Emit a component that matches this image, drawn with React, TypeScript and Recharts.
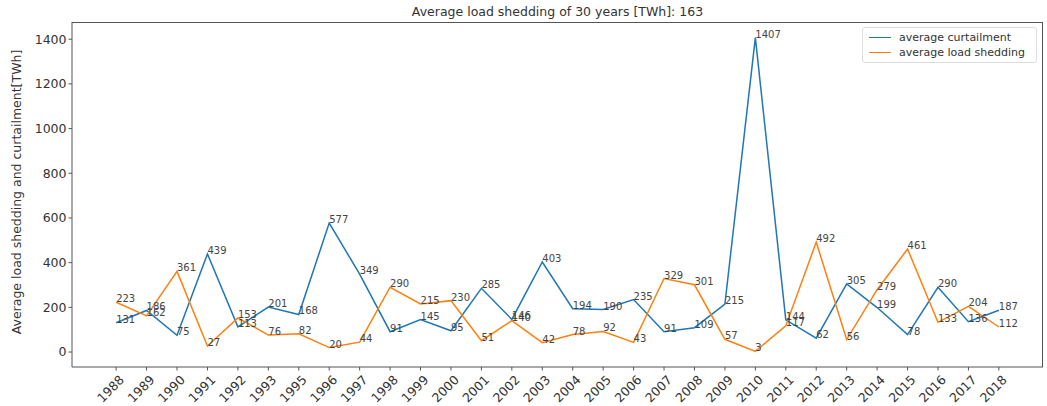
import { LineChart, Line, XAxis, YAxis, LabelList } from "recharts";

const years = [
  "1988", "1989", "1990", "1991", "1992", "1993", "1995", "1996", "1997", "1998",
  "1999", "2000", "2001", "2002", "2003", "2004", "2005", "2006", "2007", "2008",
  "2009", "2010", "2011", "2012", "2013", "2014", "2015", "2016", "2017", "2018",
];
const curtailment = [
  131, 186, 75, 439, 113, 201, 168, 577, 349, 91, 145, 95, 285, 146, 403, 194, 190,
  235, 91, 109, 215, 1407, 144, 62, 305, 199, 78, 290, 136, 187,
];
const loadShedding = [
  223, 162, 361, 27, 153, 76, 82, 20, 44, 290, 215, 230, 51, 140, 42, 78, 92, 43, 329,
  301, 57, 3, 117, 492, 56, 279, 461, 133, 204, 112,
];
const yTicks = [0, 200, 400, 600, 800, 1000, 1200, 1400];

const data = years.map((year, i) => ({
  idx: i,
  year,
  curtailment: curtailment[i],
  shedding: loadShedding[i],
}));

const FONT = "'DejaVu Sans', sans-serif";
const BLUE = "#1f77b4";
const ORANGE = "#ff7f0e";

const ValueLabel = (props: any) => {
  const { x, y, value } = props;
  return (
    <text x={x} y={y} fontSize={10} fill="#444" fontFamily={FONT} textAnchor="start">
      {value}
    </text>
  );
};

const YearTick = (props: any) => {
  const { x, y, payload } = props;
  return (
    <g transform={`translate(${x},${y + 5})`}>
      <text
        transform="rotate(-45)"
        textAnchor="end"
        dominantBaseline="central"
        fontSize={12.5}
        fill="#333"
        fontFamily={FONT}
        x={4}
        y={4}
      >
        {years[payload.value]}
      </text>
    </g>
  );
};

export default function App() {
  return (
    <div style={{ position: "absolute", left: 0, top: 0, width: 1047, height: 406, background: "#fff" }}>
      <LineChart
        width={1047}
        height={406}
        data={data}
        margin={{ top: 22, right: 4, bottom: 0, left: 8 }}
      >
        <XAxis
          dataKey="idx"
          type="number"
          domain={[-1.45, 30.45]}
          ticks={years.map((_, i) => i)}
          interval={0}
          height={39}
          stroke="#555"
          tickSize={3.5}
          tick={<YearTick />}
        />
        <YAxis
          domain={[-67, 1477]}
          ticks={yTicks}
          width={64}
          stroke="#555"
          tickSize={3.5}
          tick={{ fontSize: 12.5, fill: "#333", fontFamily: FONT }}
        />
        <Line
          dataKey="curtailment"
          stroke={BLUE}
          strokeWidth={1.5}
          dot={false}
          isAnimationActive={false}
        >
          <LabelList dataKey="curtailment" content={<ValueLabel />} />
        </Line>
        <Line
          dataKey="shedding"
          stroke={ORANGE}
          strokeWidth={1.5}
          dot={false}
          isAnimationActive={false}
        >
          <LabelList dataKey="shedding" content={<ValueLabel />} />
        </Line>
      </LineChart>
      {/* top and right spines */}
      <div
        style={{
          position: "absolute",
          left: 72,
          top: 22,
          width: 971,
          height: 345,
          borderTop: "1px solid #555",
          borderRight: "1px solid #555",
          boxSizing: "border-box",
          pointerEvents: "none",
        }}
      />
      <svg
        width={30}
        height={406}
        style={{ position: "absolute", left: 0, top: 0, pointerEvents: "none" }}
      >
        <text
          transform="translate(21,192) rotate(-90)"
          textAnchor="middle"
          fontSize={12.5}
          fill="#333"
          fontFamily={FONT}
        >
          Average load shedding and curtailment[TWh]
        </text>
      </svg>
      <div
        style={{
          position: "absolute",
          top: 4,
          left: 72,
          width: 971,
          textAlign: "center",
          fontFamily: FONT,
          fontSize: 12.5,
          color: "#333",
        }}
      >
        Average load shedding of 30 years [TWh]: 163
      </div>
      <div
        style={{
          position: "absolute",
          left: 862,
          top: 27,
          width: 175,
          height: 36,
          border: "1px solid #ddd",
          borderRadius: 3,
          background: "rgba(255,255,255,0.8)",
          fontFamily: FONT,
          fontSize: 11,
          color: "#333",
          boxSizing: "border-box",
          padding: "2px 6px",
        }}
      >
        {[
          { name: "average curtailment", color: BLUE },
          { name: "average load shedding", color: ORANGE },
        ].map((s) => (
          <div key={s.name} style={{ display: "flex", alignItems: "center", height: 15 }}>
            <span style={{ display: "inline-block", width: 22, height: 0, borderTop: `1.5px solid ${s.color}`, marginRight: 8 }} />
            <span>{s.name}</span>
          </div>
        ))}
      </div>
    </div>
  );
}
